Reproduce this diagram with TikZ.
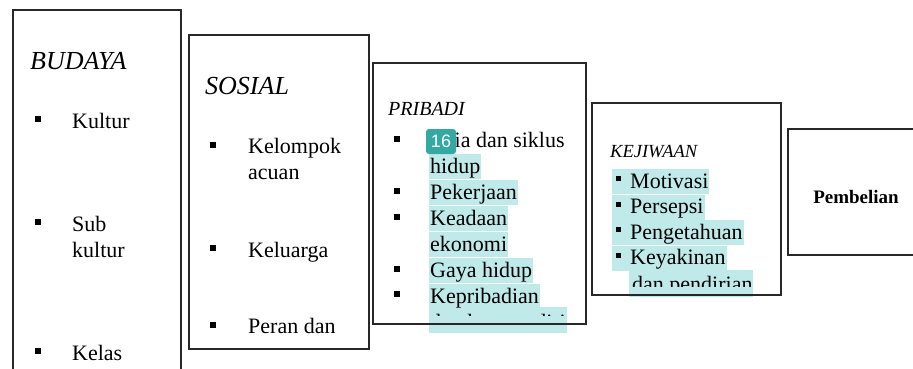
\documentclass[tikz,border=0pt]{standalone}
\usepackage{fontspec}
\setmainfont{Liberation Serif}
\newfontfamily\badgefont{Liberation Sans}
\definecolor{hlc}{RGB}{192,234,234}
\definecolor{badgec}{RGB}{52,168,163}
\definecolor{boxc}{RGB}{40,40,40}
\begin{document}
\begin{tikzpicture}[x=1pt,y=-1pt,
  box/.style={draw=boxc,line width=1.6pt,anchor=north west,inner sep=0pt},
  bul/.style={fill=black,inner sep=0pt,minimum size=6pt},
  bulsmall/.style={fill=black,inner sep=0pt,minimum size=5pt},
  item/.style={anchor=base west,inner xsep=1pt,inner ysep=0pt,font=\fontsize{22}{26}\selectfont,text height=19pt,text depth=6pt},
  hl/.style={item,fill=hlc},
  hlrect/.style={fill=hlc,inner sep=0pt,anchor=north west},
  head/.style={anchor=base west,inner sep=0pt,font=\fontsize{26}{30}\selectfont\itshape}]
\useasboundingbox (0,0) rectangle (913,368);
\clip (0,0) rectangle (913,368);
\fill[white] (0,0) rectangle (913,368);

% highlights that cross box borders (drawn below the borders)
\node[hlrect,minimum width=138pt,minimum height=26pt] (hlp) at (429,307) {};
\node[hlrect,minimum width=124pt,minimum height=27pt] (hlk) at (629,270) {};

% boxes
\node[box,minimum width=168pt,minimum height=380pt] (budaya) at (12,9) {};
\node[box,minimum width=180pt,minimum height=314pt] (sosial) at (188,34) {};
\node[box,minimum width=213pt,minimum height=261pt] (pribadi) at (372,62) {};
\node[box,minimum width=189pt,minimum height=192pt] (kejiwaan) at (591,102) {};
\node[box,minimum width=140pt,minimum height=126pt] (pembelian) at (787,128) {};

% BUDAYA
\node[head] (hb) at (30,69) {BUDAYA};
\node[bul] (b1) at (38,119) {};
\node[item] (t1) at (71,128) {Kultur};
\node[bul] (b2) at (38,222) {};
\node[item] (t2) at (71,231) {Sub};
\node[item] (t2b) at (71,257) {kultur};
\node[bul] (b3) at (38,351) {};
\node[item] (t3) at (71,360) {Kelas};

% SOSIAL
\node[head] (hs) at (205,94) {SOSIAL};
\node[bul] (s1) at (213,145) {};
\node[item] (u1) at (247,153) {Kelompok};
\node[item] (u1b) at (247,179) {acuan};
\node[bul] (s2) at (213,248) {};
\node[item] (u2) at (247,257) {Keluarga};
\node[bul] (s3) at (213,325) {};
\node[item] (u3) at (247,333) {Peran dan};

% PRIBADI
\node[head,font=\fontsize{20}{24}\selectfont\itshape] (hp) at (388,115) {PRIBADI};
\node[bul] (p1) at (397,139) {};
\node[item] (q1) at (429,147) {Usia dan siklus};
\node[hl] (q1b) at (429,173) {hidup};
\node[bul] (p2) at (397,191) {};
\node[hl] (q2) at (429,199) {Pekerjaan};
\node[bul] (p3) at (397,217) {};
\node[hl] (q3) at (429,225) {Keadaan};
\node[hl] (q3b) at (429,251) {ekonomi};
\node[bul] (p4) at (397,269) {};
\node[hl] (q4) at (429,277) {Gaya hidup};
\node[bul] (p5) at (397,294) {};
\node[hl] (q5) at (429,303) {Kepribadian};
\begin{scope}
\clip (380,300) rectangle (580,315.5);
\node[item] (q5b) at (429,329) {dan konsep diri};
\end{scope}

% KEJIWAAN
\node[head,font=\fontsize{18.5}{22}\selectfont\itshape] (hk) at (610,157) {KEJIWAAN};
\node[hl] (r1) at (629,188) {Motivasi};
\fill[hlc] (612,169) rectangle (r1.south west);
\node[bulsmall] (k1) at (618,178.5) {};
\node[hl] (r2) at (629,213.5) {Persepsi};
\fill[hlc] (612,194.5) rectangle (r2.south west);
\node[bulsmall] (k2) at (618,204) {};
\node[hl] (r3) at (629,239) {Pengetahuan};
\fill[hlc] (612,220) rectangle (r3.south west);
\node[bulsmall] (k3) at (618,229.5) {};
\node[hl] (r4) at (629,264.5) {Keyakinan};
\fill[hlc] (612,245.5) rectangle (r4.south west);
\node[bulsmall] (k4) at (618,255) {};
\begin{scope}
\clip (600,250) rectangle (775,286);
\node[item] (r4b) at (631,291) {dan pendirian};
\end{scope}

% Pembelian
\node[anchor=base,inner sep=0pt,font=\fontsize{19}{22}\selectfont\bfseries] (pt) at (856,203) {Pembelian};

% badge
\node[fill=badgec,rounded corners=3pt,minimum width=30pt,minimum height=25pt,inner sep=0pt,text=white,font=\badgefont\fontsize{18}{18}\selectfont] (badge) at (441,141.5) {16};
\end{tikzpicture}
\end{document}
